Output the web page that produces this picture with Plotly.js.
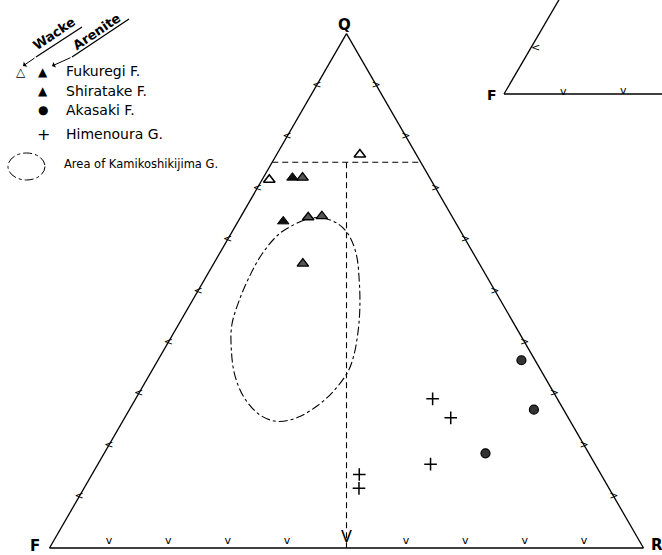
<!DOCTYPE html>
<html><head><meta charset="utf-8">
<script src="https://cdn.plot.ly/plotly-3.0.1.min.js"></script>
<style>html,body{margin:0;padding:0;background:#fff}#chart{width:662px;height:555px}</style>
</head><body><div id="chart"></div>
<script>
// ---- data (percent Q, F, R) ----
const fukuregiWackeQ = [76.5, 71.6];
const fukuregiWackeF = [9.5, 27.2];
const fukuregiWackeR = [14.0, 1.2];

const fukuregiAreniteQ = [72.0, 63.5];
const fukuregiAreniteF = [23.1, 28.9];
const fukuregiAreniteR = [4.9, 7.6];

const shiratakeQ = [72.0, 64.3, 64.5, 55.3];
const shiratakeF = [21.4, 24.3, 21.9, 29.7];
const shiratakeR = [6.6, 11.4, 13.6, 15.0];

const akasakiQ = [36.5, 26.9, 18.4];
const akasakiF = [2.3, 5.0, 17.4];
const akasakiR = [61.2, 68.1, 64.2];

const himenouraQ = [29.0, 25.3, 16.3, 14.3, 11.6];
const himenouraF = [21.0, 19.8, 27.7, 40.7, 42.1];
const himenouraR = [50.0, 54.9, 56.0, 45.0, 46.3];

// Area of Kamikoshikijima G. (outline)
const areaQ = [64.0, 64.2, 63.0, 61.0, 57.1, 51.9, 46.7, 42.1, 37.5, 34.3, 30.6, 27.7, 25.4, 24.6, 25.7, 29.0, 33.6, 38.8, 43.4, 48.0, 52.5, 57.1, 61.0, 63.0, 64.0];
const areaF = [24.4, 22.0, 19.9, 19.2, 19.8, 21.9, 24.4, 27.0, 30.0, 32.6, 36.8, 41.0, 45.5, 49.2, 51.5, 52.6, 52.0, 50.0, 47.6, 44.1, 40.2, 35.7, 30.9, 27.1, 24.4];
const areaR = [11.6, 13.8, 17.1, 19.8, 23.1, 26.2, 28.9, 30.9, 32.5, 33.1, 32.6, 31.3, 29.1, 26.2, 22.8, 18.4, 14.4, 11.2, 9.0, 7.9, 7.3, 7.2, 8.1, 9.9, 11.6];

// guide lines: Q = 75 line, and F:R = 1:1 line
const guideHQ = [75, 75];
const guideHF = [25, 0];
const guideHR = [0, 25];
const guideVQ = [75, 0];
const guideVF = [12.5, 50];
const guideVR = [12.5, 50];

// side tick marks (every 10 %)
const tickVals = [10, 20, 30, 40, 60, 70, 80, 90];
const tickValsSide = [10, 20, 30, 40, 50, 60, 70, 80, 90];

// ---- traces ----
const blk = 'black';
const traces = [];
function tern(a, b, c, extra) {
  return Object.assign({type: 'scatterternary', a: a, b: b, c: c, showlegend: false,
    hoverinfo: 'skip', cliponaxis: false}, extra);
}
traces.push(tern(areaQ, areaF, areaR, {mode: 'lines', line: {color: blk, width: 1.1, dash: 'dashdot', shape: 'spline', smoothing: 1}}));
traces.push(tern(guideHQ, guideHF, guideHR, {mode: 'lines', line: {color: blk, width: 1.1, dash: '6px,4px'}}));
traces.push(tern(guideVQ, guideVF, guideVR, {mode: 'lines', line: {color: blk, width: 1.1, dash: '6px,4px'}}));
// arrow head at bottom of vertical guide
traces.push(tern([guideVQ[1]], [guideVF[1]], [guideVR[1]], {mode: 'markers+text', text: ['V'], textposition: 'top center',
  marker: {size: 1, opacity: 0}, textfont: {family: 'DejaVu Sans', size: 16, color: blk}}));
// ticks
traces.push(tern(tickVals.map(() => 0), tickVals.map(t => 100 - t), tickVals, {mode: 'markers+text', text: tickVals.map(() => 'v'),
  textposition: 'top center', marker: {size: 1, opacity: 0}, textfont: {family: 'DejaVu Sans', size: 11, color: blk}}));
traces.push(tern(tickValsSide, tickValsSide.map(t => 100 - t), tickValsSide.map(() => 0), {mode: 'text', text: tickValsSide.map(() => '<'),
  textposition: 'middle center', textfont: {family: 'DejaVu Sans', size: 11, color: blk}}));
traces.push(tern(tickValsSide, tickValsSide.map(() => 0), tickValsSide.map(t => 100 - t), {mode: 'text', text: tickValsSide.map(() => '>'),
  textposition: 'middle center', textfont: {family: 'DejaVu Sans', size: 11, color: blk}}));
// data
traces.push(tern(fukuregiWackeQ, fukuregiWackeF, fukuregiWackeR, {mode: 'markers', name: 'Fukuregi F. (wacke)',
  marker: {symbol: 'triangle-up-open', size: 10, color: blk, line: {width: 1.6, color: blk}}}));
traces.push(tern(fukuregiAreniteQ, fukuregiAreniteF, fukuregiAreniteR, {mode: 'markers', name: 'Fukuregi F. (arenite)',
  marker: {symbol: 'triangle-up', size: 10, color: '#111', line: {width: 1, color: blk}}}));
traces.push(tern(shiratakeQ, shiratakeF, shiratakeR, {mode: 'markers', name: 'Shiratake F.',
  marker: {symbol: 'triangle-up', size: 10, color: '#555', line: {width: 1.3, color: blk}}}));
traces.push(tern(akasakiQ, akasakiF, akasakiR, {mode: 'markers', name: 'Akasaki F.',
  marker: {symbol: 'circle', size: 9, color: '#333', line: {width: 1.2, color: blk}}}));
traces.push(tern(himenouraQ, himenouraF, himenouraR, {mode: 'markers', name: 'Himenoura G.',
  marker: {symbol: 'cross-thin', size: 9, color: blk, line: {width: 1.5, color: blk}}}));

// ---- layout ----
const W = 662, H = 555;
const px = x => x / W, py = y => 1 - y / H;
const axis = {showgrid: false, showticklabels: false, ticks: '', showline: true, linecolor: blk, linewidth: 1.3, title: {text: ''}};
const fnt = (s, extra) => Object.assign({family: 'DejaVu Sans', size: s, color: blk}, extra || {});
function ann(x, y, text, size, opts) {
  return Object.assign({xref: 'paper', yref: 'paper', x: px(x), y: py(y), text: text, showarrow: false,
    xanchor: 'center', yanchor: 'middle', font: fnt(size)}, opts || {});
}
const annotations = [
  ann(344, 25, '<b>Q</b>', 15),
  ann(35, 546, '<b>F</b>', 15),
  ann(657, 545, '<b>R</b>', 15),
  ann(492, 95, '<b>F</b>', 14),
  ann(563, 91, 'v', 11), ann(623, 90, 'v', 11), ann(535, 47, '<', 11),
  // legend
  ann(54, 33, '<b>Wacke</b>', 13, {textangle: -34}),
  ann(97, 32, '<b>Arenite</b>', 13, {textangle: -34}),
  {xref: 'paper', yref: 'paper', x: px(23), y: py(66), ax: 13, ay: -9, axref: 'pixel', ayref: 'pixel', text: '', showarrow: true,
    arrowhead: 1, arrowsize: 1, arrowwidth: 1, arrowcolor: blk},
  {xref: 'paper', yref: 'paper', x: px(52), y: py(66), ax: 20, ay: -9, axref: 'pixel', ayref: 'pixel', text: '', showarrow: true,
    arrowhead: 1, arrowsize: 1, arrowwidth: 1, arrowcolor: blk},
  ann(21, 72, '△', 12),
  ann(43, 72, '▲', 12),
  ann(43, 91, '▲', 12),
  ann(43, 110, '●', 12),
  ann(43, 134, '+', 16),
  ann(64, 71, 'Fukuregi F.', 14, {xanchor: 'left'}),
  ann(64, 91, 'Shiratake F.', 14, {xanchor: 'left'}),
  ann(64, 110, 'Akasaki F.', 14, {xanchor: 'left'}),
  ann(64, 134, 'Himenoura G.', 14, {xanchor: 'left'}),
  ann(62, 164, 'Area of Kamikoshikijima G.', 11.5, {xanchor: 'left'})
];
const shapes = [
  {type: 'circle', xref: 'paper', yref: 'paper', x0: px(8), x1: px(45), y0: py(180), y1: py(153),
    line: {color: blk, width: 1, dash: 'dashdot'}},
  // underlines of Wacke / Arenite
  {type: 'line', xref: 'paper', yref: 'paper', x0: px(36), y0: py(57), x1: px(82), y1: py(27), line: {color: blk, width: 1.3}},
  {type: 'line', xref: 'paper', yref: 'paper', x0: px(72), y0: py(57), x1: px(129), y1: py(19), line: {color: blk, width: 1.3}},
  // fragment of the neighbouring figure
  {type: 'line', xref: 'paper', yref: 'paper', x0: px(504), y0: py(94), x1: px(560), y1: py(-2), line: {color: blk, width: 1.3}},
  {type: 'line', xref: 'paper', yref: 'paper', x0: px(504), y0: py(94), x1: px(662), y1: py(94), line: {color: blk, width: 1.3}}
];
const layout = {
  width: W, height: H,
  margin: {l: 0, r: 0, t: 0, b: 0, pad: 0},
  paper_bgcolor: 'white',
  showlegend: false,
  ternary: {
    sum: 100,
    bgcolor: 'white',
    domain: {x: [0.07477, 0.97205], y: [0.01261, 0.93946]},
    aaxis: axis, baxis: axis, caxis: axis
  },
  annotations: annotations,
  shapes: shapes
};
Plotly.newPlot('chart', traces, layout, {staticPlot: true});
</script>
</body></html>
